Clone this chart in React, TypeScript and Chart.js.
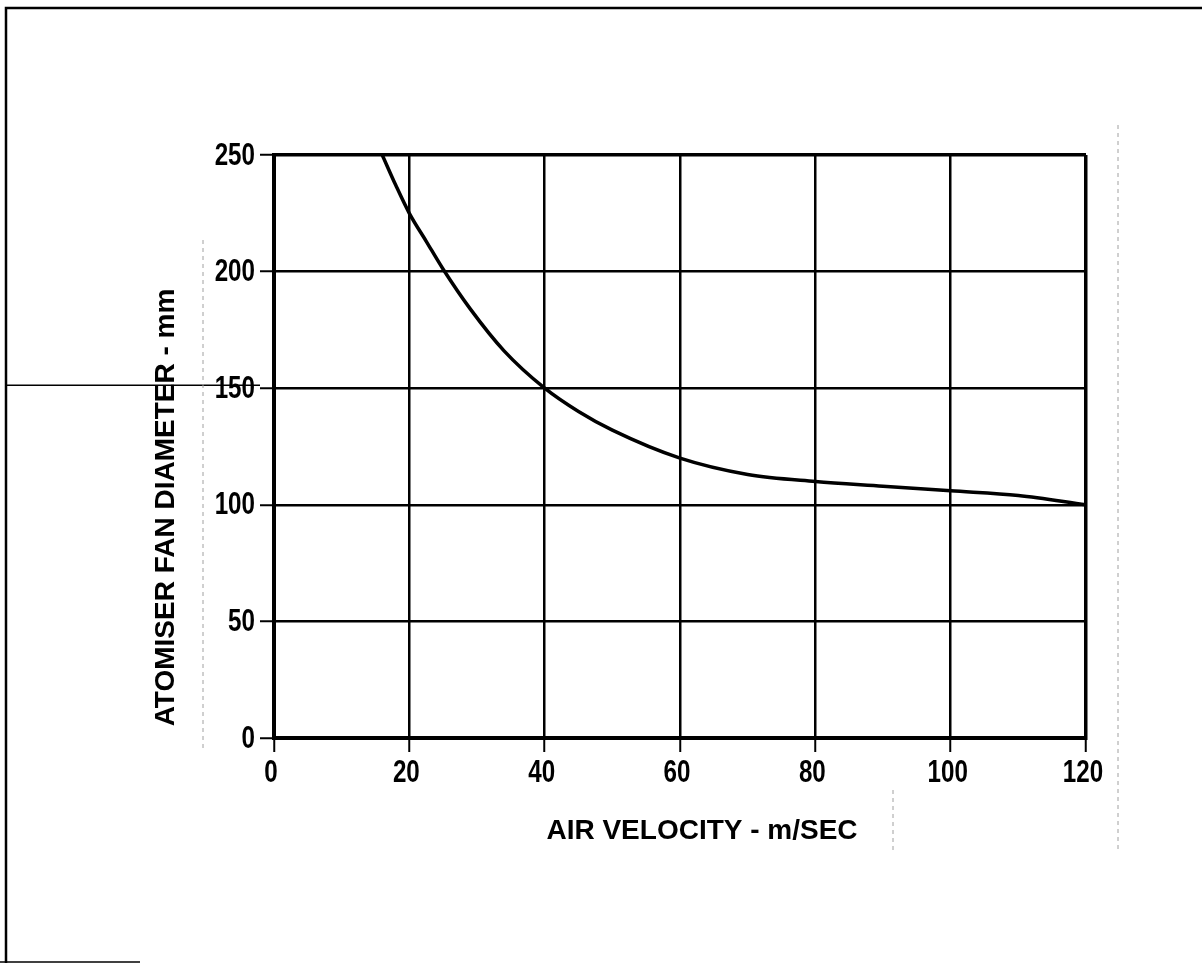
import React, { useEffect, useRef } from "react";
import { Chart, registerables } from "chart.js";

Chart.register(...registerables);

// Air velocity (m/sec) and atomiser fan diameter (mm)
const airVelocity = [16, 18, 20, 22.5, 25, 29, 34, 40, 45, 50, 60, 70, 80, 90, 100, 110, 120];
const fanDiameter = [250, 237, 225, 213, 201, 184, 166, 150, 140, 132, 120, 113, 110, 108, 106, 104, 100];

const xTicks = [0, 20, 40, 60, 80, 100, 120];
const yTicks = [0, 50, 100, 150, 200, 250];

const xTitle = "AIR VELOCITY - m/SEC";
const yTitle = "ATOMISER FAN DIAMETER - mm";

const W = 1202;
const H = 965;
const FONT = '"Liberation Sans", Arial, Helvetica, sans-serif';

function drawNarrow(ctx: any, text: string, x: number, y: number, align: "center" | "right") {
  const sx = 0.78;
  ctx.save();
  ctx.translate(x, y);
  ctx.scale(sx, 1);
  ctx.textAlign = align;
  ctx.textBaseline = "middle";
  ctx.fillText(text, 0, 0);
  ctx.restore();
}

const decorPlugin = {
  id: "decor",
  beforeDraw(chart: any) {
    const ctx = chart.ctx;
    ctx.save();
    ctx.fillStyle = "#ffffff";
    ctx.fillRect(0, 0, W, H);
    ctx.restore();
  },
  afterDraw(chart: any) {
    const ctx = chart.ctx;
    const area = chart.chartArea;
    const xs = chart.scales.x;
    const ys = chart.scales.y;
    ctx.save();
    // scanned page frame
    ctx.strokeStyle = "#000";
    ctx.lineWidth = 2.5;
    ctx.beginPath();
    ctx.moveTo(6, 963);
    ctx.lineTo(6, 8);
    ctx.lineTo(W, 8);
    ctx.stroke();
    ctx.lineWidth = 1.5;
    ctx.beginPath();
    ctx.moveTo(0, 962);
    ctx.lineTo(140, 962);
    ctx.stroke();
    // stray line through the y title at 150
    const y150 = ys.getPixelForValue(150);
    ctx.lineWidth = 1.5;
    ctx.beginPath();
    ctx.moveTo(6, y150 - 3);
    ctx.lineTo(area.left - 14, y150 - 3);
    ctx.stroke();
    // faint dashed fold lines
    ctx.strokeStyle = "#a0a0a0";
    ctx.lineWidth = 1;
    ctx.setLineDash([4, 4]);
    ctx.beginPath();
    ctx.moveTo(203, 240);
    ctx.lineTo(203, 752);
    ctx.moveTo(1118, 125);
    ctx.lineTo(1118, 850);
    ctx.moveTo(893, 790);
    ctx.lineTo(893, 850);
    ctx.stroke();
    ctx.setLineDash([]);

    // tick labels (condensed), positioned from the scales
    ctx.fillStyle = "#000";
    ctx.font = `bold 31px ${FONT}`;
    xs.ticks.forEach((t: any) => {
      drawNarrow(ctx, String(t.value), xs.getPixelForValue(t.value) - 3, area.bottom + 35, "center");
    });
    ys.ticks.forEach((t: any) => {
      drawNarrow(ctx, String(t.value), area.left - 19, ys.getPixelForValue(t.value) + 1, "right");
    });

    // axis titles
    ctx.font = `bold 28px ${FONT}`;
    ctx.textAlign = "center";
    ctx.textBaseline = "middle";
    ctx.fillText(xTitle, (area.left + area.right) / 2 + 22, 831);
    ctx.translate(166, (area.top + area.bottom) / 2 + 61);
    ctx.rotate(-Math.PI / 2);
    ctx.fillText(yTitle, 0, 0);
    ctx.restore();
  },
};

export default function App() {
  const ref = useRef<HTMLCanvasElement | null>(null);

  useEffect(() => {
    if (!ref.current) return;
    const chart = new Chart(ref.current, {
      type: "line",
      data: {
        datasets: [
          {
            data: airVelocity.map((x, i) => ({ x, y: fanDiameter[i] })),
            borderColor: "#000",
            borderWidth: 3.5,
            pointRadius: 0,
            fill: false,
            cubicInterpolationMode: "monotone",
          },
        ],
      },
      options: {
        animation: false,
        responsive: false,
        devicePixelRatio: 1,
        layout: { padding: { left: 0, top: 155, right: W - 1086, bottom: 0 } },
        plugins: { legend: { display: false }, tooltip: { enabled: false } },
        scales: {
          x: {
            type: "linear",
            min: 0,
            max: 120,
            afterBuildTicks: (scale: any) => {
              scale.ticks = xTicks.map((v) => ({ value: v }));
            },
            afterFit: (scale: any) => {
              scale.height = H - 738;
            },
            grid: {
              color: "#000",
              lineWidth: (c: any) => (c.tick && c.tick.value === 120 ? 3.5 : 2.5),
              tickLength: 14,
              tickWidth: 2,
              tickColor: "#000",
            },
            border: { display: true, color: "#000", width: 4 },
            ticks: { display: false, autoSkip: false },
          },
          y: {
            type: "linear",
            min: 0,
            max: 250,
            afterBuildTicks: (scale: any) => {
              scale.ticks = yTicks.map((v) => ({ value: v }));
            },
            afterFit: (scale: any) => {
              scale.width = 274;
            },
            grid: {
              color: "#000",
              lineWidth: (c: any) => (c.tick && c.tick.value === 250 ? 3.5 : 2.5),
              tickLength: 14,
              tickWidth: 2,
              tickColor: "#000",
            },
            border: { display: true, color: "#000", width: 4 },
            ticks: { display: false, autoSkip: false },
          },
        },
      },
      plugins: [decorPlugin],
    } as any);
    return () => chart.destroy();
  }, []);

  return (
    <div style={{ position: "fixed", left: 0, top: 0, width: W, height: H, background: "#fff" }}>
      <canvas ref={ref} width={W} height={H} style={{ width: W, height: H, display: "block" }} />
    </div>
  );
}
